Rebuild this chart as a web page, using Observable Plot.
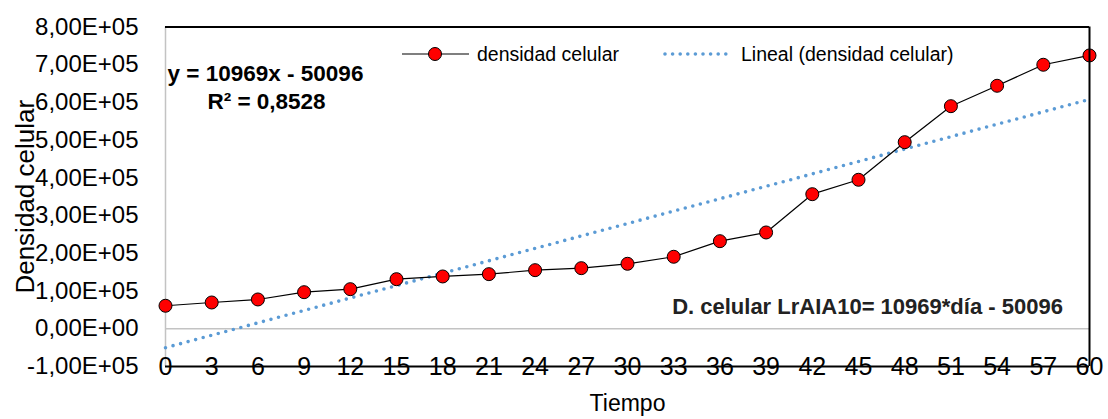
<!DOCTYPE html>
<html>
<head>
<meta charset="utf-8">
<script src="https://cdn.jsdelivr.net/npm/d3@7"></script>
<script src="https://cdn.jsdelivr.net/npm/@observablehq/plot@0.6"></script>
<style>
  html, body { margin: 0; padding: 0; background: #fff; }
  svg { display: block; }
</style>
</head>
<body>
<script>
// Días de muestreo y densidad celular medida
const dias = [0, 3, 6, 9, 12, 15, 18, 21, 24, 27, 30, 33, 36, 39, 42, 45, 48, 51, 54, 57, 60];
const densidad = [61000, 69700, 77700, 97000, 105000, 131500, 138700, 144800, 155400, 160700,
  172300, 190900, 232200, 255300, 356800, 395000, 494700, 590100, 644200, 699900, 724600];

// Ajuste lineal reportado
const pendiente = 10969;
const intercepto = -50096;
const r2 = "0,8528";

// Marcas de los ejes
const xTicks = [0, 3, 6, 9, 12, 15, 18, 21, 24, 27, 30, 33, 36, 39, 42, 45, 48, 51, 54, 57, 60];
const yTicks = [-100000, 0, 100000, 200000, 300000, 400000, 500000, 600000, 700000, 800000];

const serie = dias.map((d, i) => ({dia: d, densidad: densidad[i]}));
const tendencia = [dias[0], dias[dias.length - 1]].map(d => ({dia: d, densidad: pendiente * d + intercepto}));

// Notación científica con coma decimal: 8,00E+05
const sci = v => {
  const [m, e] = v.toExponential(2).split("e");
  const n = +e;
  return m.replace(".", ",") + "E" + (n < 0 ? "-" : "+") + String(Math.abs(n)).padStart(2, "0");
};

const ecuacion = `y = ${pendiente}x ${intercepto < 0 ? "-" : "+"} ${Math.abs(intercepto)}`;
const modelo = `D. celular LrAIA10= ${pendiente}*día ${intercepto < 0 ? "-" : "+"} ${Math.abs(intercepto)}`;

const font = "'Liberation Sans', Arial, sans-serif";
const azul = "#5B9BD5";

const chart = Plot.plot({
  width: 1108,
  height: 419,
  marginLeft: 165,
  marginRight: 19,
  marginTop: 26.5,
  marginBottom: 53,
  style: {fontFamily: font, background: "#fff", color: "#000", overflow: "visible"},
  x: {domain: [0, 60], axis: null},
  y: {domain: [-100000, 800000]},
  marks: [
    Plot.ruleY([0], {stroke: "#c3c3c3", strokeWidth: 1.5}),
    Plot.ruleX([0], {stroke: "#c3c3c3", strokeWidth: 1.5}),
    Plot.line(tendencia, {x: "dia", y: "densidad", stroke: azul, strokeWidth: 3.6,
      strokeDasharray: "0,7.8", strokeLinecap: "round"}),
    Plot.line(serie, {x: "dia", y: "densidad", stroke: "#000", strokeWidth: 1.2}),
    Plot.dot(serie, {x: "dia", y: "densidad", r: 6.5, fill: "#ff0000", stroke: "#000", strokeWidth: 1}),
    Plot.ruleY([800000], {stroke: "#000", strokeWidth: 2}),
    Plot.ruleX([60], {stroke: "#000", strokeWidth: 2}),
    Plot.axisY({ticks: yTicks, tickFormat: sci, tickSize: 0, tickPadding: 27, fontSize: 24, label: null}),
    Plot.text(xTicks, {x: d => d, text: d => String(d), frameAnchor: "bottom", lineAnchor: "middle", fontSize: 25}),
    Plot.ruleY([-100000], {stroke: "#000", strokeWidth: 2}),
    Plot.text(["Densidad celular"], {frameAnchor: "left", rotate: -90, dx: -140, textAnchor: "middle",
      lineAnchor: "middle", fontSize: 26}),
    Plot.text(["Tiempo"], {frameAnchor: "bottom", dy: 37, lineAnchor: "middle", fontSize: 23}),
    Plot.text([ecuacion], {frameAnchor: "top-left", dx: 100, dy: 46.5, lineAnchor: "middle",
      textAnchor: "middle", fontSize: 22.5, fontWeight: "bold"}),
    Plot.text([`R² = ${r2}`], {frameAnchor: "top-left", dx: 101, dy: 75, lineAnchor: "middle",
      textAnchor: "middle", fontSize: 22.5, fontWeight: "bold"}),
    Plot.text([modelo], {frameAnchor: "bottom-right", dx: -222, dy: -59.5, lineAnchor: "middle",
      textAnchor: "middle", fontSize: 22, fontWeight: "bold", fill: "#222"})
  ]
});

// Leyenda
const svg = d3.select(chart);
const ley = svg.append("g").attr("font-family", font).attr("font-size", 19.5)
  .attr("fill", "#000").attr("text-anchor", "start");
const yl = 54;
ley.append("line").attr("x1", 402).attr("x2", 469).attr("y1", yl).attr("y2", yl)
  .attr("stroke", "#000").attr("stroke-width", 1.2);
ley.append("circle").attr("cx", 435).attr("cy", yl).attr("r", 6.5)
  .attr("fill", "#ff0000").attr("stroke", "#000");
ley.append("text").attr("x", 477).attr("y", yl).attr("dy", "0.35em").text("densidad celular");
ley.append("line").attr("x1", 665).attr("x2", 733).attr("y1", yl).attr("y2", yl)
  .attr("stroke", azul).attr("stroke-width", 3.6).attr("stroke-dasharray", "0,7.6").attr("stroke-linecap", "round");
ley.append("text").attr("x", 741).attr("y", yl).attr("dy", "0.35em").text("Lineal (densidad celular)");

document.body.appendChild(chart);
</script>
</body>
</html>
